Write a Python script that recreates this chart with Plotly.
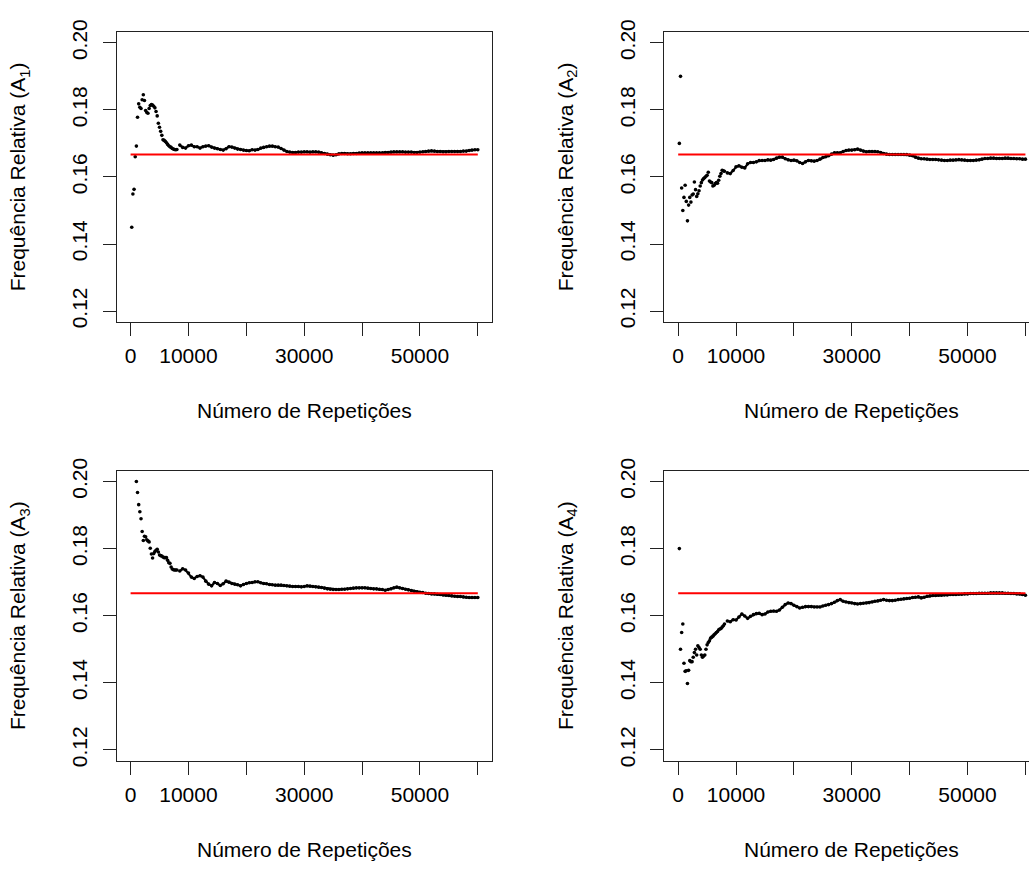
import plotly.graph_objects as go

# ---------------- data ----------------
X_EARLY = list(range(200, 8001, 200))      # 40 sample points
X_LATE = list(range(8500, 60001, 500))     # 104 sample points

PROB = 1 / 6
LINE_X = [0, 60000]

A1_EARLY = [0.1450, 0.1549, 0.1563, 0.1660, 0.1692, 0.1778, 0.1818, 0.1808, 0.1804, 0.1830,
            0.1845, 0.1828, 0.1798, 0.1792, 0.1790, 0.1804, 0.1813, 0.1816, 0.1814, 0.1811,
            0.1806, 0.1795, 0.1782, 0.1760, 0.1748, 0.1736, 0.1724, 0.1711, 0.1709, 0.1706,
            0.1702, 0.1697, 0.1693, 0.1690, 0.1688, 0.1685, 0.1683, 0.1682, 0.1681, 0.1682]
A1_LATE = [0.1695, 0.1688, 0.1686, 0.1693, 0.1695, 0.1690, 0.1690, 0.1686, 0.1690, 0.1692,
           0.1693, 0.1689, 0.1686, 0.1684, 0.1682, 0.1680, 0.1684, 0.1690, 0.1689, 0.1686,
           0.1683, 0.1682, 0.1680, 0.1679, 0.1678, 0.1681, 0.1680, 0.1682, 0.1686, 0.1688,
           0.1690, 0.1692, 0.1692, 0.1690, 0.1689, 0.1685, 0.1680, 0.1676, 0.1674, 0.1673,
           0.1673, 0.1674, 0.1674, 0.1675, 0.1675, 0.1674, 0.1675, 0.1675, 0.1674, 0.1672,
           0.1670, 0.1668, 0.1666, 0.1665, 0.1666, 0.1669, 0.1670, 0.1670, 0.1669, 0.1669,
           0.1670, 0.1670, 0.1671, 0.1672, 0.1672, 0.1672, 0.1672, 0.1672, 0.1672, 0.1672,
           0.1672, 0.1673, 0.1673, 0.1674, 0.1675, 0.1675, 0.1675, 0.1675, 0.1674, 0.1674,
           0.1674, 0.1673, 0.1673, 0.1674, 0.1675, 0.1676, 0.1677, 0.1678, 0.1677, 0.1676,
           0.1676, 0.1675, 0.1675, 0.1676, 0.1676, 0.1676, 0.1676, 0.1676, 0.1677, 0.1677,
           0.1679, 0.1680, 0.1681, 0.1681]

A2_EARLY = [0.1700, 0.1900, 0.1567, 0.1500, 0.1539, 0.1575, 0.1527, 0.1469, 0.1516, 0.1539,
            0.1525, 0.1546, 0.1549, 0.1585, 0.1562, 0.1542, 0.1550, 0.1559, 0.1573, 0.1583,
            0.1591, 0.1595, 0.1598, 0.1602, 0.1605, 0.1614, 0.1588, 0.1585, 0.1583, 0.1573,
            0.1575, 0.1580, 0.1583, 0.1581, 0.1590, 0.1602, 0.1610, 0.1620, 0.1618, 0.1617]
A2_LATE = [0.1612, 0.1610, 0.1619, 0.1630, 0.1633, 0.1629, 0.1627, 0.1639, 0.1643, 0.1643,
           0.1645, 0.1649, 0.1649, 0.1649, 0.1651, 0.1650, 0.1652, 0.1656, 0.1659, 0.1659,
           0.1654, 0.1651, 0.1649, 0.1650, 0.1648, 0.1643, 0.1640, 0.1645, 0.1649, 0.1648,
           0.1647, 0.1649, 0.1653, 0.1658, 0.1660, 0.1663, 0.1668, 0.1672, 0.1672, 0.1672,
           0.1676, 0.1679, 0.1680, 0.1680, 0.1681, 0.1683, 0.1680, 0.1677, 0.1675, 0.1676,
           0.1676, 0.1676, 0.1675, 0.1673, 0.1670, 0.1668, 0.1667, 0.1667, 0.1667, 0.1667,
           0.1667, 0.1667, 0.1667, 0.1665, 0.1663, 0.1659, 0.1656, 0.1654, 0.1654, 0.1653,
           0.1652, 0.1652, 0.1652, 0.1651, 0.1650, 0.1649, 0.1649, 0.1650, 0.1650, 0.1651,
           0.1652, 0.1651, 0.1650, 0.1649, 0.1649, 0.1649, 0.1650, 0.1651, 0.1653, 0.1655,
           0.1655, 0.1656, 0.1656, 0.1655, 0.1655, 0.1655, 0.1656, 0.1656, 0.1655, 0.1655,
           0.1654, 0.1654, 0.1653, 0.1653]

A3_EARLY = [None, None, None, None, 0.2000, 0.1967, 0.1931, 0.1910, 0.1889, 0.1851,
            0.1824, 0.1837, 0.1835, 0.1826, 0.1823, 0.1820, 0.1801, 0.1784, 0.1772, 0.1785,
            0.1791, 0.1795, 0.1798, 0.1790, 0.1781, 0.1779, 0.1778, 0.1775, 0.1773, 0.1773,
            0.1773, 0.1765, 0.1758, 0.1756, 0.1745, 0.1739, 0.1737, 0.1736, 0.1736, 0.1736]
A3_LATE = [0.1733, 0.1740, 0.1736, 0.1727, 0.1715, 0.1711, 0.1717, 0.1719, 0.1715, 0.1703,
           0.1694, 0.1689, 0.1699, 0.1696, 0.1690, 0.1695, 0.1703, 0.1700, 0.1696, 0.1694,
           0.1692, 0.1689, 0.1693, 0.1696, 0.1698, 0.1699, 0.1701, 0.1701, 0.1698, 0.1696,
           0.1695, 0.1693, 0.1692, 0.1691, 0.1691, 0.1691, 0.1690, 0.1689, 0.1688, 0.1687,
           0.1687, 0.1687, 0.1686, 0.1687, 0.1689, 0.1688, 0.1687, 0.1686, 0.1685, 0.1684,
           0.1682, 0.1680, 0.1679, 0.1678, 0.1678, 0.1678, 0.1679, 0.1679, 0.1680, 0.1681,
           0.1682, 0.1683, 0.1683, 0.1683, 0.1683, 0.1682, 0.1681, 0.1680, 0.1680, 0.1679,
           0.1678, 0.1676, 0.1678, 0.1680, 0.1683, 0.1685, 0.1683, 0.1681, 0.1679, 0.1677,
           0.1675, 0.1673, 0.1671, 0.1670, 0.1669, 0.1667, 0.1666, 0.1665, 0.1665, 0.1664,
           0.1663, 0.1662, 0.1661, 0.1660, 0.1659, 0.1658, 0.1657, 0.1657, 0.1656, 0.1655,
           0.1654, 0.1654, 0.1654, 0.1654]

A4_EARLY = [0.1800, 0.1500, 0.1550, 0.1575, 0.1458, 0.1434, 0.1436, 0.1398, 0.1437, 0.1466,
            0.1463, 0.1463, 0.1476, 0.1490, 0.1500, 0.1483, 0.1510, 0.1505, 0.1500, 0.1483,
            0.1476, 0.1480, 0.1483, 0.1500, 0.1513, 0.1520, 0.1525, 0.1533, 0.1536, 0.1539,
            0.1543, 0.1546, 0.1550, 0.1553, 0.1558, 0.1560, 0.1562, 0.1566, 0.1570, 0.1575]
A4_LATE = [0.1584, 0.1582, 0.1588, 0.1587, 0.1596, 0.1605, 0.1599, 0.1592, 0.1598, 0.1603,
           0.1606, 0.1607, 0.1603, 0.1605, 0.1611, 0.1613, 0.1614, 0.1613, 0.1617, 0.1625,
           0.1633, 0.1638, 0.1636, 0.1631, 0.1627, 0.1623, 0.1625, 0.1627, 0.1627, 0.1627,
           0.1626, 0.1626, 0.1626, 0.1629, 0.1631, 0.1633, 0.1636, 0.1640, 0.1645, 0.1648,
           0.1643, 0.1641, 0.1639, 0.1638, 0.1636, 0.1635, 0.1636, 0.1637, 0.1638, 0.1639,
           0.1641, 0.1643, 0.1644, 0.1646, 0.1648, 0.1646, 0.1645, 0.1645, 0.1646, 0.1648,
           0.1649, 0.1650, 0.1651, 0.1652, 0.1654, 0.1655, 0.1656, 0.1653, 0.1655, 0.1658,
           0.1659, 0.1660, 0.1660, 0.1661, 0.1661, 0.1662, 0.1662, 0.1663, 0.1663, 0.1663,
           0.1664, 0.1664, 0.1665, 0.1665, 0.1666, 0.1666, 0.1666, 0.1667, 0.1667, 0.1667,
           0.1667, 0.1668, 0.1668, 0.1668, 0.1668, 0.1668, 0.1667, 0.1667, 0.1666, 0.1666,
           0.1665, 0.1665, 0.1663, 0.1661]

SERIES = [(A1_EARLY, A1_LATE), (A2_EARLY, A2_LATE), (A3_EARLY, A3_LATE), (A4_EARLY, A4_LATE)]
EVENTS = ["A<sub>1</sub>", "A<sub>2</sub>", "A<sub>3</sub>", "A<sub>4</sub>"]

X_LABELED_TICKS = [0, 10000, 30000, 50000]
X_LABELS = ["0", "10000", "30000", "50000"]
X_UNLABELED_TICKS = [20000, 40000, 60000]
Y_TICKS = [0.12, 0.14, 0.16, 0.18, 0.20]
Y_TICK_TEXT = ["0.12", "0.14", "0.16", "0.18", "0.20"]
X_TITLE = "Número de Repetições"
Y_TITLE = "Frequência Relativa ({})"

# ---------------- layout geometry (pixels) ----------------
W, H = 1029, 869
FONT = "Liberation Sans, Arial, Helvetica, sans-serif"
FS = 21
BOX = "#222222"
COLS = [(116.7, 491.7, [-2400, 62400]), (664.3, 1029.0, [-2400, 60621])]
ROWS = [(19.5, 315.7), (468.0, 764.3)]
Y_RANGE = [0.1168, 0.2032]


def fx(px):
    return px / W


def fy(px):
    return 1 - px / H


fig = go.Figure()
layout = dict(
    width=W, height=H, margin=dict(l=0, r=0, t=0, b=0),
    paper_bgcolor="white", plot_bgcolor="white", showlegend=False,
    font=dict(family=FONT, size=FS, color="black"),
)
annotations = []

for i, (early, late) in enumerate(SERIES):
    r, c = divmod(i, 2)
    x0, x1, xr = COLS[c]
    top, bot = ROWS[r]
    sfx = "" if i == 0 else str(i + 1)
    xa, ya = "x" + sfx, "y" + sfx

    fig.add_trace(go.Scatter(
        x=X_EARLY, y=early, mode="markers", xaxis=xa, yaxis=ya,
        marker=dict(color="black", size=3.6, line=dict(width=0)),
        hoverinfo="skip"))
    fig.add_trace(go.Scatter(
        x=X_LATE, y=late, mode="lines+markers", xaxis=xa, yaxis=ya,
        line=dict(color="black", width=2.2),
        marker=dict(color="black", size=3.6, line=dict(width=0)),
        hoverinfo="skip"))
    fig.add_trace(go.Scatter(
        x=LINE_X, y=[PROB, PROB], mode="lines", xaxis=xa, yaxis=ya,
        line=dict(color="#ff0000", width=2), hoverinfo="skip"))

    layout["xaxis" + sfx] = dict(
        domain=[fx(x0), min(1.0, fx(x1))], range=xr, anchor=ya,
        showgrid=False, zeroline=False, showline=True, linecolor=BOX, linewidth=1,
        mirror=True, ticks="outside", ticklen=13, tickwidth=1, tickcolor=BOX,
        tickmode="array", tickvals=X_LABELED_TICKS, ticktext=X_LABELS, ticklabelstandoff=2,
        minor=dict(tickmode="array", tickvals=X_UNLABELED_TICKS, ticks="outside",
                   ticklen=13, tickwidth=1, tickcolor=BOX, showgrid=False),
        tickfont=dict(family=FONT, size=FS, color="black"))
    layout["yaxis" + sfx] = dict(
        domain=[fy(bot), fy(top)], range=Y_RANGE, anchor=xa,
        showgrid=False, zeroline=False, showline=True, linecolor=BOX, linewidth=1,
        mirror=(c == 0), ticks="outside", ticklen=13, tickwidth=1, tickcolor=BOX,
        tickvals=Y_TICKS, ticktext=Y_TICK_TEXT, tickangle=-90, ticklabelstandoff=7,
        tickfont=dict(family=FONT, size=FS, color="black"),
        title=dict(text=Y_TITLE.format(EVENTS[i]), standoff=36,
                   font=dict(family=FONT, size=FS, color="black")))

    annotations.append(dict(
        text=X_TITLE, xref="paper", yref="paper",
        x=fx(x0 + 187.5), y=fy(bot + 91), xanchor="center", yanchor="middle",
        showarrow=False, font=dict(family=FONT, size=FS, color="black")))

layout["annotations"] = annotations
fig.update_layout(**layout)

fig.write_html("out.html", config={"displayModeBar": False},
               post_script="document.body.style.margin='0';document.body.style.overflow='hidden';")
